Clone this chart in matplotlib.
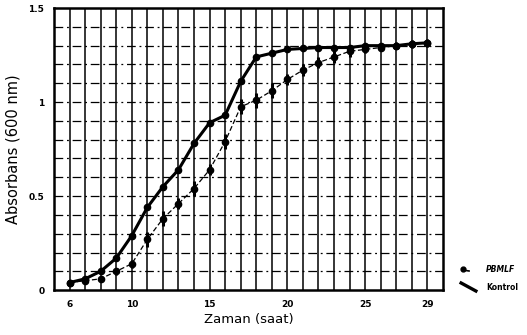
import matplotlib
matplotlib.use("Agg")
import matplotlib.pyplot as plt
import numpy as np
from matplotlib.lines import Line2D

hours = list(range(6, 30))
kontrol = [0.04, 0.06, 0.10, 0.17, 0.29, 0.44, 0.55, 0.64, 0.78, 0.89, 0.93, 1.11,
           1.24, 1.26, 1.28, 1.285, 1.29, 1.29, 1.29, 1.30, 1.30, 1.30, 1.31, 1.315]
pbmlf = [0.04, 0.05, 0.06, 0.10, 0.14, 0.27, 0.38, 0.46, 0.54, 0.64, 0.79, 0.975,
         1.01, 1.06, 1.12, 1.17, 1.21, 1.24, 1.27, 1.28, 1.29, 1.30, 1.31, 1.315]
pbmlf_err = [0.01, 0.01, 0.01, 0.02, 0.02, 0.04, 0.04, 0.03, 0.04, 0.03, 0.04, 0.04,
             0.04, 0.04, 0.03, 0.03, 0.03, 0.03, 0.03, 0.02, 0.02, 0.02, 0.02, 0.02]
xticks = [6, 10, 15, 20, 25, 29]
yticks = [0, 0.5, 1, 1.5]
ytick_labels = ["0", "0.5", "1", "1.5"]

fig = plt.figure(figsize=(5.27, 3.35), dpi=100)
ax = fig.add_axes([0.1025, 0.134, 0.738, 0.842])

ax.set_xlim(5, 30)
ax.set_ylim(0, 1.5)

# grid
for xv in range(6, 30):
    ax.axvline(xv, color="black", lw=1.1, zorder=1)
for yv in np.arange(0.1, 1.5, 0.1):
    ax.axhline(yv, color="black", lw=0.9, ls=(0, (7, 3, 1.5, 3)), zorder=1)

ax.plot(hours, kontrol, color="black", lw=2.2, marker="o", ms=4.5, zorder=3)
ax.errorbar(hours, pbmlf, yerr=pbmlf_err, color="black", lw=0.9, ls=(0, (4, 2)),
            marker="o", ms=4.5, elinewidth=2.2, capsize=0, zorder=3)

for s in ax.spines.values():
    s.set_linewidth(1.8)

ax.set_xticks(xticks)
ax.set_xticklabels([str(t) for t in xticks], fontsize=6.5, fontweight="bold")
ax.set_yticks(yticks)
ax.set_yticklabels(ytick_labels, fontsize=6.5, fontweight="bold")
ax.tick_params(length=0, pad=7)

ax.set_xlabel("Zaman (saat)", fontsize=9.5, labelpad=3)
ax.set_ylabel("Absorbans (600 nm)", fontsize=10.5, labelpad=6)

# legend outside, bottom right
fig.add_artist(Line2D([0.878, 0.890], [1 - 270/335, 1 - 271/335], color="black", lw=1.2))
fig.add_artist(Line2D([0.878], [1 - 269/335], color="black", marker="o", ms=3.5))
fig.add_artist(Line2D([0.875, 0.903], [1 - 283/335, 1 - 291/335], color="black", lw=2.4))
fig.text(0.922, 1 - 270/335, "PBMLF", fontsize=5.5, fontweight="bold", style="italic", va="center")
fig.text(0.922, 1 - 288/335, "Kontrol", fontsize=5.5, fontweight="bold", va="center")

fig.savefig("out.png", dpi=100)
